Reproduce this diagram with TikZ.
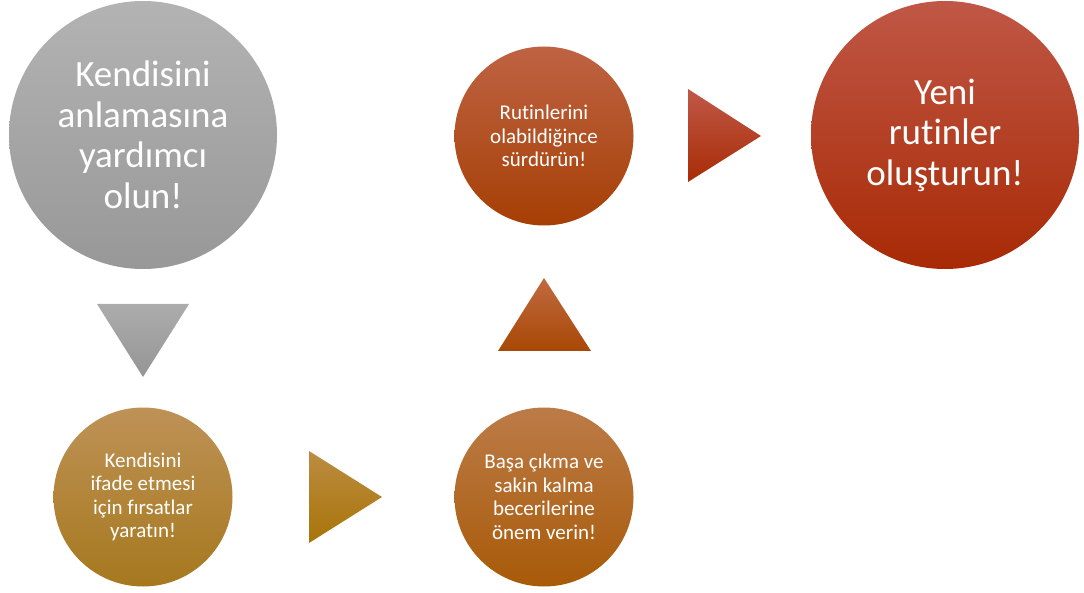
\documentclass[tikz,border=0pt]{standalone}
\usepackage{fontspec}
\setmainfont{Carlito}[Ligatures={NoCommon}]
\definecolor{gA}{HTML}{B3B3B3}\definecolor{gB}{HTML}{A7A7A7}\definecolor{gC}{HTML}{989898}
\definecolor{oA}{HTML}{BE9256}\definecolor{oB}{HTML}{B0802A}\definecolor{oC}{HTML}{A6781E}
\definecolor{bA}{HTML}{BC7B47}\definecolor{bB}{HTML}{B7640F}\definecolor{bC}{HTML}{A85A08}
\definecolor{rA}{HTML}{BE6343}\definecolor{rB}{HTML}{B84B0E}\definecolor{rC}{HTML}{A63F05}
\definecolor{dA}{HTML}{C05746}\definecolor{dB}{HTML}{B93212}\definecolor{dC}{HTML}{A82A05}
\definecolor{tgA}{HTML}{ACACAC}\definecolor{tgC}{HTML}{959595}
\definecolor{toA}{HTML}{BC8C42}\definecolor{toB}{HTML}{B07B10}\definecolor{toC}{HTML}{A87408}
\definecolor{tbA}{HTML}{C06A40}\definecolor{tbB}{HTML}{B85008}\definecolor{tbC}{HTML}{A84805}
\definecolor{trA}{HTML}{C05848}\definecolor{trB}{HTML}{B83010}\definecolor{trC}{HTML}{A82C05}
\tikzset{
  bigc/.style={circle, inner sep=0pt, minimum size=268pt, text=white, align=center,
    font=\fontsize{37}{40.5}\selectfont},
  smallc/.style={circle, inner sep=0pt, minimum size=179pt, text=white, align=center,
    font=\fontsize{21}{23.5}\selectfont},
}
\begin{document}
\begin{tikzpicture}[x=1pt,y=-1pt]
\useasboundingbox (0,0) rectangle (1084,593);
% circles
\node[bigc, top color=gA, middle color=gB, bottom color=gC] (c1) at (143,135)
  {Kendisini\\anlamasına\\yardımcı\\olun!};
\node[smallc, top color=oA, middle color=oB, bottom color=oC] (c2) at (143,497)
  {Kendisini\\ifade etmesi\\için fırsatlar\\yaratın!};
\node[smallc, top color=bA, middle color=bB, bottom color=bC] (c3) at (544,497)
  {Başa çıkma ve\\sakin kalma\\becerilerine\\önem verin!};
\node[smallc, top color=rA, middle color=rB, bottom color=rC] (c4) at (544,136)
  {Rutinlerini\\olabildiğince\\sürdürün!};
\node[bigc, top color=dA, middle color=dB, bottom color=dC] (c5) at (945,135)
  {Yeni\\rutinler\\oluşturun!};
% triangles
\shade[top color=tgA, bottom color=tgC] (97,304) -- (189,304) -- (143,377) -- cycle;
\shade[top color=toA, middle color=toB, bottom color=toC] (309,451) -- (382,497) -- (309,543) -- cycle;
\shade[top color=tbA, middle color=tbB, bottom color=tbC] (498,351) -- (544,278) -- (591,351) -- cycle;
\shade[top color=trA, middle color=trB, bottom color=trC] (688,89) -- (761,136) -- (688,182) -- cycle;
\end{tikzpicture}
\end{document}
